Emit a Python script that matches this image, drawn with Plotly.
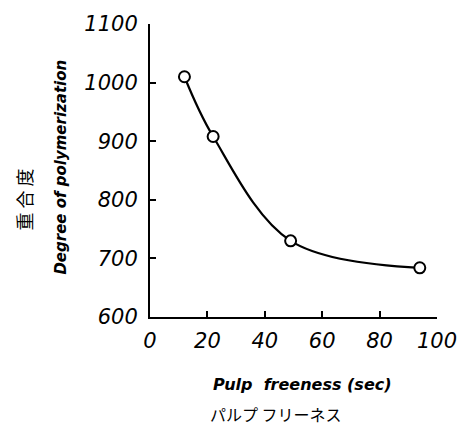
import plotly.graph_objects as go

freeness = [12, 22, 49, 94]
dp = [1010, 908, 730, 684]
x_ticks = [0, 20, 40, 60, 80, 100]
y_ticks = [600, 700, 800, 900, 1000, 1100]

fig = go.Figure()
fig.add_trace(go.Scatter(
    x=freeness, y=dp, mode="lines+markers",
    line=dict(color="black", width=2.2, shape="spline", smoothing=1.0),
    marker=dict(symbol="circle", size=11, color="white",
                line=dict(color="black", width=2)),
    showlegend=False, cliponaxis=False,
))

tickfont = dict(family="DejaVu Sans", size=21, color="black", style="italic", weight=300)
fig.update_layout(
    width=469, height=426,
    margin=dict(l=150, r=26, t=24, b=109),
    paper_bgcolor="white", plot_bgcolor="white",
    xaxis=dict(range=[0, 100], tickvals=x_ticks, ticktext=[str(v) for v in x_ticks],
               showgrid=False, zeroline=False, showline=True, linecolor="black",
               linewidth=2, ticks="inside", ticklen=6, tickwidth=2, tickcolor="black",
               tickfont=tickfont, ticklabelstandoff=4),
    yaxis=dict(range=[600, 1100], tickvals=y_ticks, ticktext=[str(v) for v in y_ticks],
               showgrid=False, zeroline=False, showline=True, linecolor="black",
               linewidth=2, ticks="inside", ticklen=6, tickwidth=2, tickcolor="black",
               tickfont=tickfont, ticklabelstandoff=6),
)

fig.add_annotation(text="Degree of polymerization", xref="paper", yref="paper",
                   x=-0.31, y=0.51, textangle=-90, showarrow=False,
                   font=dict(family="DejaVu Sans", size=15, color="black",
                             style="italic", weight="bold"),
                   xanchor="center", yanchor="middle")
fig.add_annotation(text="重 合 度", xref="paper", yref="paper",
                   x=-0.44, y=0.4, textangle=-90, showarrow=False,
                   font=dict(family="Noto Sans CJK JP", size=18, color="black"),
                   xanchor="center", yanchor="middle")
fig.add_annotation(text="Pulp  freeness (sec)", xref="paper", yref="paper",
                   x=0.53, y=-0.23, showarrow=False,
                   font=dict(family="DejaVu Sans", size=16, color="black",
                             style="italic", weight="bold"),
                   xanchor="center", yanchor="middle")
fig.add_annotation(text="パルプ フリーネス", xref="paper", yref="paper",
                   x=0.44, y=-0.33, showarrow=False,
                   font=dict(family="Noto Sans CJK JP", size=16, color="black"),
                   xanchor="center", yanchor="middle")

fig.write_html("out.html")
